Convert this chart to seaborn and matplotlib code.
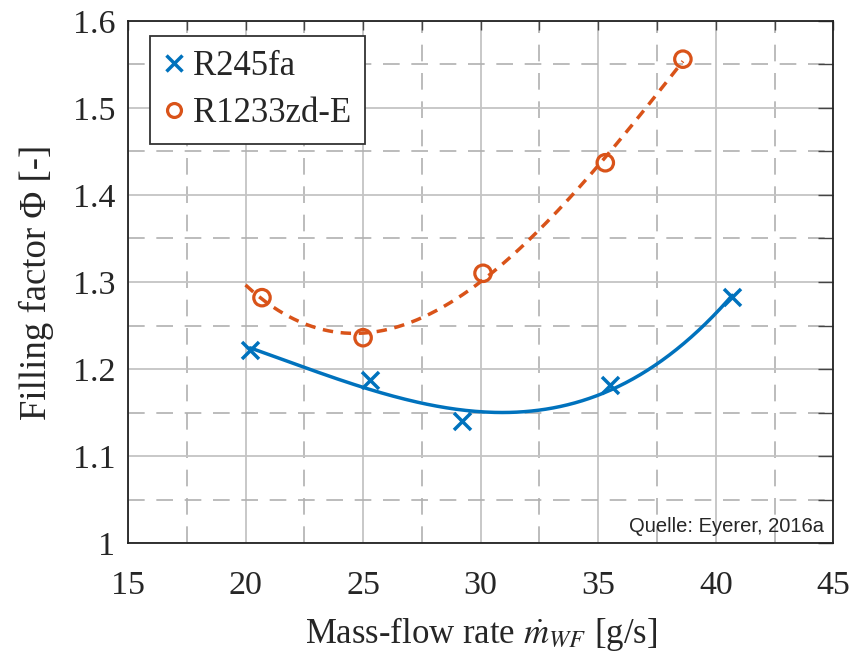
import numpy as np
import pandas as pd
import matplotlib
matplotlib.use("Agg")
import matplotlib.pyplot as plt
import seaborn as sns
from matplotlib.lines import Line2D

# Data
r245_x = [20.2, 25.3, 29.2, 35.5, 40.7]
r245_y = [1.222, 1.187, 1.140, 1.182, 1.283]
r1233_x = [20.7, 25.0, 30.1, 35.3, 38.6]
r1233_y = [1.282, 1.236, 1.310, 1.437, 1.556]
x_ticks = [15, 20, 25, 30, 35, 40, 45]
y_ticks = [1.0, 1.1, 1.2, 1.3, 1.4, 1.5, 1.6]
y_tick_labels = ["1", "1.1", "1.2", "1.3", "1.4", "1.5", "1.6"]

BLUE = "#0072BD"
ORANGE = "#D95319"

sns.set_style("white")
plt.rcParams["font.family"] = ["Liberation Serif", "DejaVu Serif"]
plt.rcParams["mathtext.fontset"] = "stix"

fig = plt.figure(figsize=(8.53, 6.52), dpi=100)
ax = fig.add_axes([0.150, 0.167, 0.827, 0.801])

# cubic trend lines through the measured points
c1 = np.polyfit(r245_x, r245_y, 3)
xs1 = np.linspace(min(r245_x), max(r245_x), 200)
c2 = np.polyfit(r1233_x, r1233_y, 3)
xs2 = np.linspace(20.0, max(r1233_x), 200)

sns.lineplot(x=xs1, y=np.polyval(c1, xs1), ax=ax, color=BLUE, lw=2.5, zorder=3)
sns.lineplot(x=xs2, y=np.polyval(c2, xs2), ax=ax, color=ORANGE, lw=2.5,
             linestyle=(0, (3.0, 2.2)), zorder=3)
sns.scatterplot(x=r245_x, y=r245_y, ax=ax, marker="x", s=150, color=BLUE,
                linewidth=2.5, zorder=4)
sns.scatterplot(x=r1233_x, y=r1233_y, ax=ax, marker="o", s=140, facecolor="none",
                edgecolor=ORANGE, linewidth=2.3, zorder=4)

ax.set_xlim(15, 45)
ax.set_ylim(1.0, 1.6)
ax.set_xticks(x_ticks)
ax.set_yticks(y_ticks)
ax.set_yticklabels(y_tick_labels)
ax.set_xticks([17.5, 22.5, 27.5, 32.5, 37.5, 42.5], minor=True)
ax.set_yticks([1.05, 1.15, 1.25, 1.35, 1.45, 1.55], minor=True)

ax.grid(which="major", color="#c4c4c4", linestyle="-", linewidth=1.3)
ax.grid(which="minor", color="#b0b0b0", linestyle=(0, (10, 7)), linewidth=1.2)
ax.set_axisbelow(True)

ax.tick_params(axis="both", which="both", direction="in", top=True, right=True,
               color="#444444", width=1.0, labelsize=24.5)
ax.tick_params(axis="x", which="both", length=6.5, pad=20)
ax.tick_params(axis="y", which="both", length=11, pad=9)
for s in ax.spines.values():
    s.set_color("#222222")
    s.set_linewidth(1.3)
    s.set_visible(True)

ax.set_xlabel(r"Mass-flow rate $\dot{m}_{WF}$ [g/s]", fontsize=25, labelpad=10)
ax.set_ylabel("Filling factor Φ [-]", fontsize=26.5, labelpad=14)

handles = [
    Line2D([], [], marker="x", color=BLUE, linestyle="none", markersize=11, markeredgewidth=2.5),
    Line2D([], [], marker="o", color=ORANGE, markerfacecolor="none", linestyle="none",
           markersize=10, markeredgewidth=2.3),
]
leg = ax.legend(handles, ["R245fa", "R1233zd-E"], loc="upper left",
                bbox_to_anchor=(0.031, 0.971), fontsize=25, frameon=True,
                fancybox=False, edgecolor="#333333", framealpha=1,
                handlelength=0.6, handletextpad=0.25, borderpad=0.4,
                labelspacing=0.42, borderaxespad=0)
leg.get_frame().set_linewidth(1.3)

ax.text(0.987, 0.021, "Quelle: Eyerer, 2016a", transform=ax.transAxes,
        ha="right", va="baseline", fontsize=14.5, family=["Liberation Sans", "DejaVu Sans"])

fig.savefig("out.png", dpi=100)
